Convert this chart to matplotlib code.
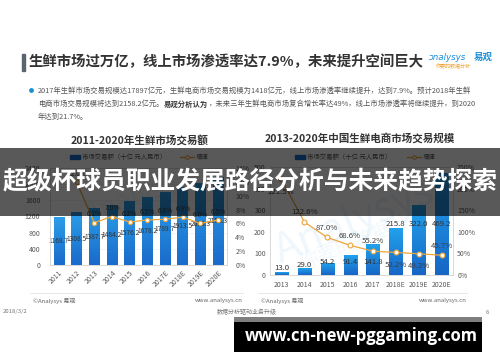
import numpy as np
import matplotlib
matplotlib.use('Agg')
import matplotlib.pyplot as plt
from matplotlib.colors import LinearSegmentedColormap
from matplotlib.patches import Rectangle
from matplotlib.lines import Line2D

plt.rcParams['font.family'] = ['Noto Sans CJK SC', 'DejaVu Sans']

# 左图：2011-2020年生鲜市场交易额
years_left = ['2011', '2012', '2013', '2014', '2015', '2016', '2017E', '2018E', '2019E', '2020E']
market_left = [1168.7, 1308.5, 1387.7, 1484.2, 1576.2, 1678.2, 1789.7, 1913.5, 2028.3, 2158.3]
growth_left = [np.nan, 12.0, 6.1, 7.0, 6.2, 6.5, 6.6, 6.9, 6.0, 6.5]

# 右图：2013-2020年中国生鲜电商市场交易规模
years_right = ['2013', '2014', '2015', '2016', '2017', '2018E', '2019E', '2020E']
market_right = [13.0, 29.0, 54.2, 91.4, 141.8, 215.8, 322.0, 469.2]
growth_right = [221.5, 122.6, 87.0, 68.6, 55.2, 52.2, 49.2, 45.7]

W, H = 500, 362
fig = plt.figure(figsize=(W / 100, H / 100), dpi=100)
fig.patch.set_facecolor('white')


def rect(x0, y0, x1, y1):
    return [x0 / W, 1 - y1 / H, (x1 - x0) / W, (y1 - y0) / H]


def gradient_bars(ax, bars, top, bottom):
    cmap = LinearSegmentedColormap.from_list('g', [bottom, top])
    grad = np.linspace(0, 1, 64).reshape(-1, 1)
    for b in bars:
        x, y = b.get_xy()
        ax.imshow(grad, extent=[x, x + b.get_width(), y, y + b.get_height()],
                  origin='lower', aspect='auto', cmap=cmap, zorder=2)
        b.set_facecolor('none')


def style_axes(ax):
    for s in ax.spines.values():
        s.set_color('#d9d9d9')
        s.set_linewidth(0.6)
    ax.tick_params(length=0, labelsize=5, labelcolor='#595959')


line_c = '#eda53a'

# ---- 左图 ----
axl = fig.add_axes(rect(50, 168, 227, 265))
xl = np.arange(len(years_left))
bars = axl.bar(xl, market_left, width=0.6, zorder=2)
gradient_bars(axl, bars, '#2b9ee8', '#1a6bcb')
axl.set_xlim(-0.5, len(years_left) - 0.5)
axl.set_ylim(0, 2400)
axl.set_yticks(np.arange(0, 2401, 400))
axl.set_xticks(xl)
axl.set_xticklabels(years_left, rotation=45, ha='right', rotation_mode='anchor', fontsize=4.6)
axl.yaxis.grid(True, color='#f0f0f0', lw=0.5, zorder=0)
style_axes(axl)
axl.tick_params(axis='y', pad=7)
axl.tick_params(axis='x', pad=3)
for xi, v in zip(xl, market_left):
    axl.text(xi, v / 2, f'{v:.1f}', ha='center', va='center', fontsize=4.8, color='#333333', zorder=4)
axl.text(4.5, 1700, 'Analysys', fontsize=20, color='#1a8fd8', alpha=0.06, rotation=20,
         ha='center', va='center', zorder=1)

axl2 = axl.twinx()
axl2.plot(xl, growth_left, color=line_c, lw=0.9, marker='o', ms=3, mfc='white', mec=line_c, mew=0.8, zorder=5)
axl2.set_ylim(0, 14)
axl2.set_yticks(np.arange(0, 15, 2))
axl2.set_yticklabels([f'{t}%' for t in range(0, 15, 2)])
style_axes(axl2)
axl2.tick_params(axis='y', pad=6)
for xi, g in zip(xl, growth_left):
    if not np.isnan(g):
        axl2.annotate(f'{g:.1f}%', (xi, g), xytext=(0, 6), textcoords='offset points',
                      ha='center', va='center', fontsize=4.8, color='#404040', zorder=6)

# ---- 右图 ----
axr = fig.add_axes(rect(270, 167, 453, 275))
xr = np.arange(len(years_right))
bars = axr.bar(xr, market_right, width=0.57, zorder=2)
gradient_bars(axr, bars, '#22a2ec', '#1766c6')
axr.set_xlim(-0.5, len(years_right) - 0.5)
axr.set_ylim(0, 500)
axr.set_yticks(np.arange(0, 501, 100))
axr.set_xticks(xr)
axr.set_xticklabels(years_right, fontsize=4.8)
style_axes(axr)
axr.tick_params(axis='y', pad=3)
axr.tick_params(axis='x', pad=4)
mr = np.array(market_right)
lab_y = np.where(mr < 200, np.clip(mr + 17, 32, 60), 236)
for xi, v, ly in zip(xr, market_right, lab_y):
    axr.text(xi, ly, f'{v:.1f}', ha='center', va='center', fontsize=5.6, color='#333333', zorder=4)
axr.text(3.2, 250, 'Analysys', fontsize=30, color='#1a8fd8', alpha=0.07, rotation=22,
         ha='center', va='center', zorder=1)
axr.text(3.6, 170, '你要的数据分析', fontsize=14, color='#1a8fd8', alpha=0.06, rotation=22,
         ha='center', va='center', zorder=1)

axr2 = axr.twinx()
axr2.plot(xr, growth_right, color=line_c, lw=0.9, marker='o', ms=3.5, mfc='white', mec=line_c, mew=0.8, zorder=5)
axr2.set_ylim(0, 250)
axr2.set_yticks(np.arange(0, 251, 50))
axr2.set_yticklabels([f'{t}%' for t in range(0, 251, 50)])
style_axes(axr2)
axr2.tick_params(axis='y', pad=3)
below = {0, 5, 6}
for i, (xi, g) in enumerate(zip(xr, growth_right)):
    dy = -9 if i in below else 7
    axr2.annotate(f'{g:.1f}%', (xi, g), xytext=(0, dy), textcoords='offset points',
                  ha='center', va='center', fontsize=5.6, color='#404040', zorder=6)

# ---- 叠加层（像素坐标）----
ov = fig.add_axes([0, 0, 1, 1], zorder=10)
ov.set_xlim(0, W)
ov.set_ylim(H, 0)
ov.axis('off')
ov.patch.set_alpha(0)
r = fig.canvas.get_renderer()


def fit(t, width):
    bb = t.get_window_extent(renderer=r)
    t.set_fontsize(t.get_fontsize() * width / bb.width)


# 标题
ov.add_patch(Rectangle((22, 54), 2.5, 17, color='#5a6470'))
t = ov.text(29, 62, '生鲜市场过万亿，线上市场渗透率达7.9%，未来提升空间巨大', fontsize=10.5,
            fontweight='bold', color='#333333', va='center', ha='left')
fit(t, 396)

# logo
ov.text(429, 57, 'ↄnalysys', fontsize=6.3, color='#1a8fd8', style='italic', va='center', ha='left',
        family=['DejaVu Sans'])
ov.text(474, 57, '易观', fontsize=6.8, fontweight='bold', color='#1a8fd8', va='center', ha='left')
ov.text(436, 67, '你要的数据分析', fontsize=3.6, color='#f0a030', va='center', ha='left')

# 正文
ov.add_patch(plt.Circle((31.5, 90.5), 1.7, color='#1a8fd8'))
t = ov.text(38, 90.5, '2017年生鲜市场交易规模达17897亿元，生鲜电商市场交易规模为1418亿元，线上市场渗透率继续提升，达到7.9%。预计2018年生鲜',
            fontsize=5.3, color='#555555', va='center', ha='left')
fit(t, 432)
bullet_fs = t.get_fontsize()
parts = [('电商市场交易规模将达到2158.2亿元。', 'normal'), ('易观分析认为', 'bold'),
         ('，未来三年生鲜电商市场复合增长率达49%，线上市场渗透率将继续提升，到2020', 'normal')]
x = 38
for s, w in parts:
    tt = ov.text(x, 104, s, fontsize=bullet_fs, fontweight=w,
                 color='#333333' if w == 'bold' else '#555555', va='center', ha='left')
    bb = tt.get_window_extent(renderer=r)
    x = ov.transData.inverted().transform((bb.x1, bb.y0))[0]
ov.text(38, 117, '年达到21.7%。', fontsize=bullet_fs, color='#555555', va='center', ha='left')

# 图表标题
ov.text(140, 140, '2011-2020年生鲜市场交易额', fontsize=7.6, fontweight='bold', color='#333333',
        ha='center', va='center')
ov.text(360, 138, '2013-2020年中国生鲜电商市场交易规模', fontsize=7.6, fontweight='bold', color='#333333',
        ha='center', va='center')

# 图例
for x0, x1 in [(70, 180), (295, 407)]:
    ov.add_patch(Rectangle((x0, 155), 10, 4, color='#1a6bcb'))
    ov.text(x0 + 12, 157, '市场交易额（十亿 元人民币）', fontsize=4.6, color='#555555', va='center', ha='left')
    ov.add_line(Line2D([x1, x1 + 14], [157, 157], color=line_c, lw=0.9))
    ov.plot(x1 + 7, 157, marker='o', ms=2.6, mfc='white', mec=line_c, mew=0.7)
    ov.text(x1 + 16, 157, '增速', fontsize=4.6, color='#555555', va='center', ha='left')

# 页脚
for x0, x1 in [(30, 243), (258, 467)]:
    ov.add_line(Line2D([x0, x1], [293, 293], color='#e3e3e3', lw=0.6))
    ov.text(x0 + 3, 300.5, '©Analysys 易观', fontsize=4.3, color='#666666', va='center', ha='left')
    ov.text(x1, 300.5, 'www.analysys.cn', fontsize=4.3, color='#666666', va='center', ha='right')
ov.text(3, 312, '2018/3/2', fontsize=4.3, color='#777777', va='center', ha='left')
ov.text(247, 312, '数据分析驱动业务升级', fontsize=4.3, color='#777777', va='center', ha='center')
ov.text(487, 312, '6', fontsize=4.3, color='#777777', va='center', ha='center')

# 横幅
ov.add_patch(Rectangle((0, 148), W, 68, color='black', alpha=0.65, lw=0, zorder=20))
t = ov.text(250, 182, '超级杯球员职业发展路径分析与未来趋势探索', fontsize=18, fontweight='bold',
            color='white', ha='center', va='center', zorder=21)
fit(t, 496)

# 网址框
ov.add_patch(Rectangle((234, 317), 248, 5, color='#7f7f7f', lw=0, zorder=20))
ov.add_patch(Rectangle((234, 322), 248, 30, color='black', lw=0, zorder=20))
t = ov.text(361, 336, 'www.cn-new-pggaming.com', fontsize=12, fontweight='bold', color='white',
            ha='center', va='center', zorder=21, family=['Open Sans', 'DejaVu Sans'])
fit(t, 233)

fig.savefig('out.png', dpi=100)
